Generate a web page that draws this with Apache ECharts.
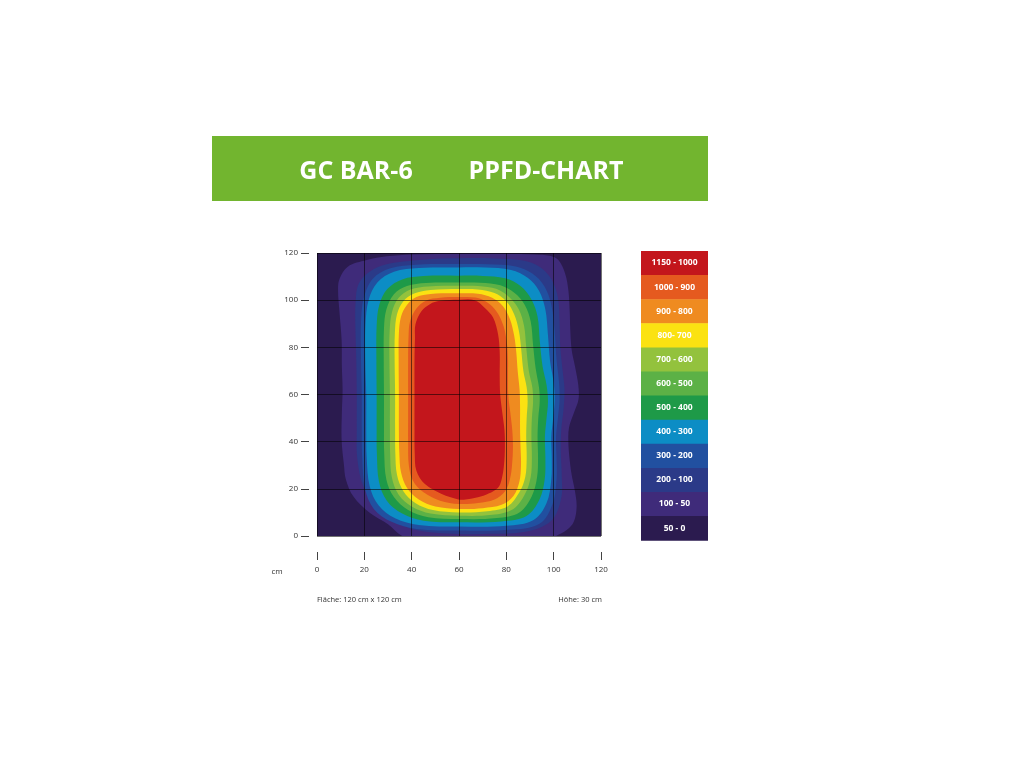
<!DOCTYPE html>
<html>
<head>
<meta charset="utf-8">
<script src="https://cdn.jsdelivr.net/npm/echarts@6/dist/echarts.min.js"></script>
<style>
html,body{margin:0;padding:0;background:#ffffff;}
#chart{width:1024px;height:768px;}
</style>
</head>
<body>
<div id="chart"></div>
<script>
// ---- data ----
const titleLeft = 'GC BAR-6';
const titleRight = 'PPFD-CHART';
const xTicks = [0, 20, 40, 60, 80, 100, 120];
const yTicks = [0, 20, 40, 60, 80, 100, 120];
const legendLabels = ['1150 - 1000','1000 - 900','900 - 800','800- 700','700 - 600','600 - 500','500 - 400','400 - 300','300 - 200','200 - 100','100 - 50','50 - 0'];
const footLeft = 'Fläche: 120 cm x 120 cm';
const footRight = 'Höhe: 30 cm';
const unitLabel = 'cm';

// contour outlines (x cm, y cm): region with PPFD >= level
const c50 = [[10.8,62],[10.5,72],[10.4,83],[9.5,95],[8.9,104],[9.5,109],[13,114.2],[21,117],[29.4,118.6],[40,119.4],[60,119.6],[80,119.6],[92,119.4],[98.4,118.8],[102,117],[104.8,111.4],[106.2,104.3],[106.8,95],[107,88],[107.6,79],[109,72],[110.4,64],[110.5,58],[108.5,52],[106.5,46],[106.2,40],[106.8,32],[107.6,26],[109,19],[109.7,12.4],[108.5,6],[105.5,2.5],[101,0],[95,-3],[80,-5],[60,-5],[45,-3],[36,0],[30,5],[22.4,9.7],[15.4,16.7],[12.2,24],[11.4,30],[10.4,40.7],[10.5,52]];
const c100 = [[16.8,60],[16.6,75],[16.2,90],[16.3,99],[17.6,107],[22.4,112.2],[29.4,115.2],[39,116.6],[50,117.6],[60,117.8],[75,117.7],[87,116.8],[94,114.2],[99,109],[101.8,101],[102.5,90],[102.8,80],[103.8,70],[104.6,62],[104.2,54],[103.2,45],[103,36],[103.4,26],[103.2,16],[99,6.5],[88,1.8],[70,0.9],[60,0.8],[40.6,2.8],[33.7,6.5],[25.2,12.5],[19.6,21],[17,33],[16.8,45]];
const c200 = [[18.9,60],[18.6,75],[18.6,91],[19.8,101],[23.5,109],[31,113.5],[42,115],[60,115.3],[72,115.2],[84,114.3],[91,111.3],[96,106],[99,98],[100.4,87],[101.2,75],[102.2,66],[102.5,58],[101.8,50],[101,42],[101.2,33],[101.2,24],[99.5,13.5],[94,5.2],[81,2.6],[60,2.3],[42,3],[31.5,6],[24,11.5],[20.3,20],[19.1,33],[18.9,45]];
const c300 = [[20.8,60],[20.4,75],[20.5,90],[21.8,100],[25.5,107.5],[32.5,112],[43,113.6],[60,113.9],[71,113.8],[82,112.8],[89,109.5],[93.8,104],[96.5,96],[97.6,85],[98.5,74],[100,65],[100.4,58],[99.8,50],[99,42],[99.2,33],[99,24],[97,14],[91.5,6.8],[80,4.3],[60,4],[43,4.7],[33,7.5],[26,13],[22.3,21],[21,33],[20.8,45]];
const c400 = [[25.2,60],[25.1,75],[25.2,89],[26.3,98],[29.8,104.8],[36,108.8],[45,110.2],[60,110.4],[70,110.3],[79.5,109.3],[86,106],[90.5,100.5],[93.2,93],[94.1,83],[95.3,72],[97,64],[97.6,57],[97,50],[96.3,42],[96.5,33],[96.2,24],[94,15.5],[88.5,8.5],[78,6.2],[60,5.8],[45,6.5],[36,9.5],[29.5,15],[26.2,23],[25.3,35],[25.2,45]];
const c500 = [[28.3,60],[28.2,75],[28.3,88],[29.3,96],[32.5,102.5],[38,106],[46,107.3],[60,107.5],[69,107.4],[77.5,106.3],[83.5,103],[87.8,98],[90.3,91],[91.3,81],[92.4,71],[93.8,63],[94.1,57],[93.5,50],[93.2,42],[93.4,33],[93,25],[90.8,17],[85.5,10],[76,7.6],[60,7.2],[47,8],[38.5,11],[32.5,16.5],[29.3,24],[28.4,35],[28.3,45]];
const c600 = [[30.8,60],[30.6,75],[30.7,87],[31.7,95],[34.5,101],[39.5,104.5],[47,105.8],[60,106.1],[68,106],[76,104.7],[81.5,101],[85.3,96],[87.5,89],[88.4,80],[89.5,70],[91,63],[91.3,57],[90.8,50],[90.6,42],[90.8,33],[90.3,25],[88,18],[83,11.5],[74,9],[60,8.6],[48,9.5],[40,12.5],[34.5,17.5],[31.6,25],[30.9,35],[30.8,45]];
const c700 = [[33,60],[32.8,75],[32.9,86],[33.8,94],[36.5,99.5],[41,102.8],[48,104.3],[60,104.7],[68,104.5],[75,103],[80,99.5],[83.3,94],[85.3,87],[86.3,79],[87.2,70],[88.6,63],[89,57],[88.6,50],[88.4,42],[88.6,33],[88,25],[85.5,18.5],[80.5,12.5],[72,10.5],[60,10],[49,11],[41.5,14],[36.5,19],[33.8,26],[33.1,35],[33,45]];
const c800 = [[34.6,60],[34.5,75],[34.6,86],[35.5,93],[38,98],[42,101.3],[48,102.6],[60,102.9],[68,102.7],[74,101],[78.5,97.5],[81.5,92],[83.3,85],[84.2,78],[84.8,70],[85.6,62],[85.8,55],[85.8,45],[86,38],[86.2,30],[85.5,23],[83,17],[78,13.2],[70,11.8],[60,11.5],[50,12.5],[43,15.5],[38,20.5],[35.5,27],[34.8,35],[34.6,45]];
const c900 = [[38.5,60],[38.5,75],[38.7,85],[39.3,91],[42,96.5],[46,99.8],[52,101],[60,101.3],[67,101.1],[72,99],[76,95],[78.8,89],[80.2,82],[80.7,75],[80.7,68],[80.8,60],[81.6,53],[82.5,45],[82.8,38],[82.4,30],[81.5,24],[79.5,19],[75,15.5],[68,14],[60,13.6],[52,15],[45,18.5],[40.5,23.5],[38.8,30],[38.5,40],[38.5,50]];
const c1000 = [[41.2,60],[41.2,75],[41.4,84],[41.6,89.8],[44.2,95.4],[47.7,98.3],[52,99.7],[60,100.2],[66.6,100],[70.8,96.8],[74.4,92.6],[76.5,85.5],[77.2,78],[77.2,68],[77.4,60],[78.2,53],[79.2,45],[79.4,38],[79,30],[78,24],[76.5,20.5],[72.5,18],[68,16.4],[62,15.4],[59.7,15.5],[52.7,17.8],[45.6,22],[42,27.7],[41.3,35],[41.2,45]];

const contours = [c50, c100, c200, c300, c400, c500, c600, c700, c800, c900, c1000];

// ---- styles ----
const bandColors = ['#c3161c','#e55a1f','#ef8b20','#fbe212','#93c23d','#5cb146','#1e9a48','#0c8dc5','#2150a0','#2b3a88','#3f2b7a','#2b1b4f'];
const fillColors = bandColors.slice(0, 11).reverse();

const chart = echarts.init(document.getElementById('chart'), null, {renderer: 'canvas'});

function makeRender(points, color) {
  return function (params, api) {
    if (params.dataIndex !== 0) return null;
    const pts = points.map(function (p) { return api.coord(p); });
    return {
      type: 'polygon',
      shape: { points: pts, smooth: 0.35 },
      style: { fill: color, stroke: null }
    };
  };
}

const series = contours.map(function (pts, i) {
  return {
    type: 'custom',
    name: 'L' + i,
    coordinateSystem: 'cartesian2d',
    clip: true,
    silent: true,
    z: 2 + i,
    data: pts,
    encode: { x: 0, y: 1 },
    renderItem: makeRender(pts, fillColors[i])
  };
});

const graphics = [];
graphics.push({ type: 'rect', left: 212, top: 136, shape: { width: 496, height: 65 }, style: { fill: '#72b52f' } });
graphics.push({ type: 'text', x: 356, y: 172, style: { text: titleLeft, fill: '#ffffff', font: 'bold 25px "Open Sans"', textAlign: 'center', textVerticalAlign: 'middle' } });
graphics.push({ type: 'text', x: 546, y: 172, style: { text: titleRight, fill: '#ffffff', font: 'bold 25px "Open Sans"', textAlign: 'center', textVerticalAlign: 'middle' } });
legendLabels.forEach(function (lab, i) {
  graphics.push({ type: 'rect', left: 641, top: 251 + i * 24.1, shape: { width: 67, height: 24.6 }, style: { fill: bandColors[i] } });
  graphics.push({ type: 'text', x: 674.5, y: 251 + i * 24.1 + 12, style: { text: lab, fill: '#ffffff', font: 'bold 8.5px "Open Sans"', textAlign: 'center', textVerticalAlign: 'middle' } });
});
graphics.push({ type: 'text', x: 277, y: 572, style: { text: unitLabel, fill: '#333333', font: '8px "Open Sans"', textAlign: 'center', textVerticalAlign: 'middle' } });
graphics.push({ type: 'text', x: 317, y: 600, style: { text: footLeft, fill: '#333333', font: '7.5px "Open Sans"', textAlign: 'left', textVerticalAlign: 'middle' } });
graphics.push({ type: 'text', x: 602, y: 600, style: { text: footRight, fill: '#333333', font: '7.5px "Open Sans"', textAlign: 'right', textVerticalAlign: 'middle' } });

const option = {
  backgroundColor: '#ffffff',
  animation: false,
  grid: { left: 317, top: 253, width: 284, height: 283, show: true, backgroundColor: bandColors[11], borderWidth: 0 },
  xAxis: {
    type: 'value', min: xTicks[0], max: xTicks[xTicks.length - 1], interval: xTicks[1] - xTicks[0],
    position: 'bottom', offset: 16, z: 20,
    axisLine: { show: false, onZero: false },
    axisTick: { show: true, length: 8, lineStyle: { color: '#444444', width: 1 } },
    axisLabel: { margin: 14, fontSize: 8, color: '#333333', fontFamily: 'Open Sans' },
    splitLine: { show: true, lineStyle: { color: 'rgba(0,0,0,0.55)', width: 1 } }
  },
  yAxis: {
    type: 'value', min: yTicks[0], max: yTicks[yTicks.length - 1], interval: yTicks[1] - yTicks[0],
    position: 'left', offset: 8, z: 20,
    axisLine: { show: false, onZero: false },
    axisTick: { show: true, length: 8, lineStyle: { color: '#444444', width: 1 } },
    axisLabel: { margin: 11, fontSize: 8, color: '#333333', fontFamily: 'Open Sans' },
    splitLine: { show: true, lineStyle: { color: 'rgba(0,0,0,0.55)', width: 1 } }
  },
  graphic: graphics,
  series: series
};
chart.setOption(option);
</script>
</body>
</html>
